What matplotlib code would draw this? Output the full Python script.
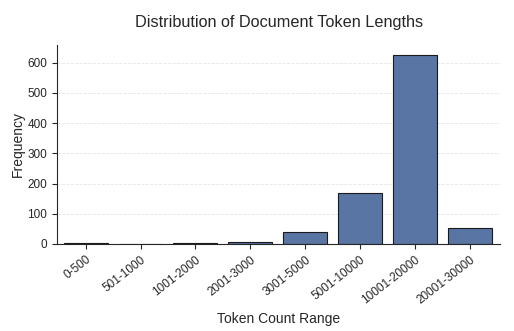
import matplotlib
matplotlib.use('Agg')
import matplotlib.pyplot as plt
import seaborn as sns

ranges = ['0-500', '501-1000', '1001-2000', '2001-3000', '3001-5000',
          '5001-10000', '10001-20000', '20001-30000']
counts = [2, 0, 2, 5, 38, 169, 625, 54]

sns.set_style('ticks')
plt.rcParams['font.family'] = ['Liberation Sans', 'DejaVu Sans']

fig, ax = plt.subplots(figsize=(5.14, 3.31), dpi=100)
ax.bar(range(len(ranges)), counts, width=0.8, color='#5975a4',
       edgecolor='#1a1a1a', linewidth=0.8, zorder=2)
ax.set_xticks(range(len(ranges)))
ax.set_xticklabels(ranges, rotation=38, ha='right', rotation_mode='anchor', fontsize=8.5)
ax.tick_params(axis='y', labelsize=8.5)
ax.set_xlim(-0.52, len(ranges) - 0.45)
ax.set_ylim(0, 660)
ax.yaxis.grid(True, linestyle='--', color='#e6e6e6', linewidth=0.6, zorder=0)
ax.set_title('Distribution of Document Token Lengths', fontsize=11.7, pad=13, color='#262626')
ax.set_xlabel('Token Count Range', fontsize=10)
ax.set_ylabel('Frequency', fontsize=10, labelpad=2)
sns.despine(ax=ax)
fig.subplots_adjust(left=0.111, right=0.973, top=0.865, bottom=0.263)
fig.savefig('out.png', dpi=100)
